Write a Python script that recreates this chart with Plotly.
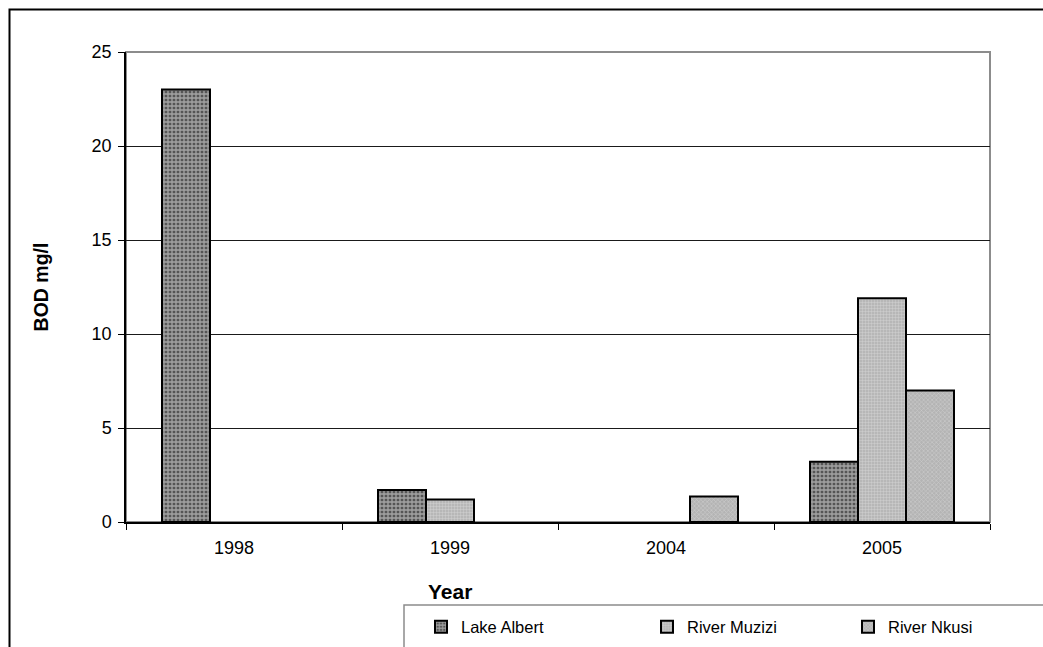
import plotly.graph_objects as go

# BOD measurements by sampling year
years = ["1998", "1999", "2004", "2005"]
lake_albert = [23.0, 1.7, None, 3.2]
river_muzizi = [None, 1.2, None, 11.9]
river_nkusi = [None, None, 1.35, 7.0]

FONT = "Liberation Sans, Arial, sans-serif"

series = [
    ("Lake Albert", lake_albert, dict(shape="+", bgcolor="#555555", fgcolor="#f0f0f0", size=4, solidity=0.55), "legend"),
    ("River Muzizi", river_muzizi, dict(shape=".", bgcolor="#b0b0b0", fgcolor="#e6e6e6", size=3, solidity=0.5), "legend2"),
    ("River Nkusi", river_nkusi, dict(shape="x", bgcolor="#b4b4b4", fgcolor="#e0e0e0", size=3, solidity=0.4), "legend3"),
]

fig = go.Figure()
for name, vals, pattern, lg in series:
    fig.add_trace(go.Bar(
        name=name, x=years, y=vals, showlegend=True,
        marker=dict(color=pattern["bgcolor"], line=dict(color="#000000", width=2),
                    pattern=pattern),
        legend=lg,
    ))

W, H = 1043, 647
L, R, T, B = 126, 990, 52, 522
pw, ph = R - L, B - T


def px(x):
    return (x - L) / pw


def py(y):
    return (B - y) / ph


legend_common = dict(orientation="h", yanchor="middle", xanchor="left",
                     xref="container", yref="container",
                     font=dict(family=FONT, size=16.5, color="#000000"),
                     bgcolor="rgba(0,0,0,0)", borderwidth=0, itemwidth=30)

fig.update_layout(
    width=W, height=H,
    margin=dict(l=L, r=W - R, t=T, b=H - B, autoexpand=False),
    paper_bgcolor="#ffffff", plot_bgcolor="#ffffff",
    barmode="group", bargap=1 / 3, bargroupgap=0,
    showlegend=True,
    font=dict(family=FONT, size=18, color="#000000"),
    legend=dict(legend_common, x=421 / W, y=1 - 627 / H),
    legend2=dict(legend_common, x=647 / W, y=1 - 627 / H),
    legend3=dict(legend_common, x=848 / W, y=1 - 627 / H),
    xaxis=dict(
        type="category", showline=True, linecolor="#000000", linewidth=1.5,
        ticks="outside", tickson="boundaries", ticklen=6, tickcolor="#000000",
        tickfont=dict(family=FONT, size=18), showgrid=False, ticklabelstandoff=9,
    ),
    yaxis=dict(
        range=[0, 25], dtick=5, showline=True, linecolor="#000000", linewidth=1.5,
        ticks="outside", ticklen=6, tickcolor="#000000",
        tickfont=dict(family=FONT, size=18), ticklabelstandoff=3,
        showgrid=True, gridcolor="#1a1a1a", gridwidth=1, zeroline=False,
        title=dict(text="<b>BOD mg/l</b>", font=dict(family=FONT, size=19.5), standoff=38),
    ),
    annotations=[
        dict(text="<b>Year</b>", x=px(450), y=py(591), xref="paper", yref="paper",
             xanchor="center", yanchor="middle", showarrow=False,
             font=dict(family=FONT, size=21, color="#000000")),
    ],
    shapes=[
        # gray plot-area frame (top and right edges)
        dict(type="rect", xref="paper", yref="paper", x0=0, x1=1, y0=0, y1=1,
             line=dict(color="#8c8c8c", width=2), layer="below"),
        # legend box
        dict(type="rect", xref="paper", yref="paper", x0=px(404), x1=px(1060),
             y0=py(605), y1=py(670), line=dict(color="#8c8c8c", width=1.5)),
        # outer chart border
        dict(type="rect", xref="paper", yref="paper", x0=px(9.5), x1=px(1070),
             y0=py(9.5), y1=py(680), line=dict(color="#000000", width=2)),
    ],
)

fig.write_html("out.html")
